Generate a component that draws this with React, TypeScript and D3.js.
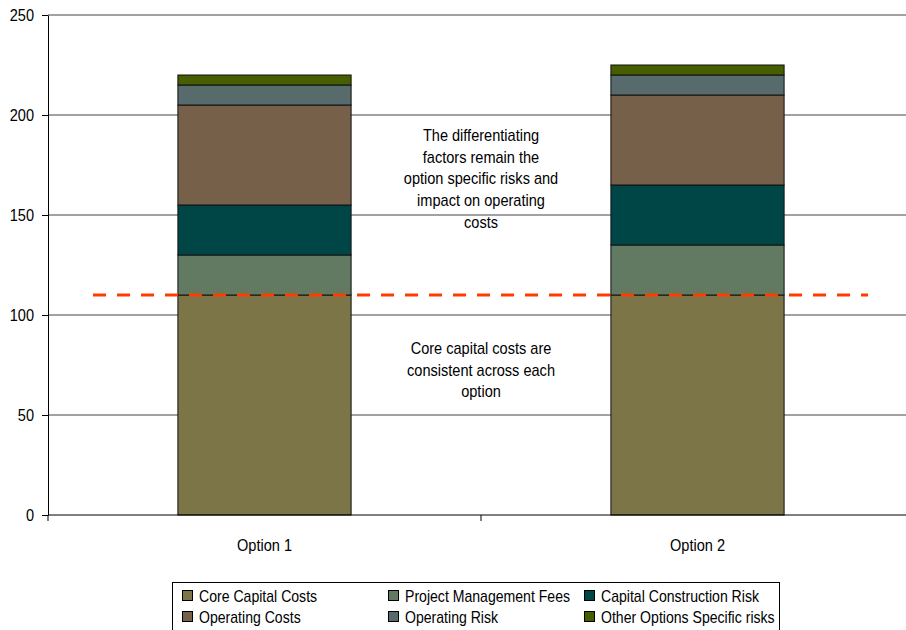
import React, { useEffect, useRef } from 'react';
import * as d3 from 'd3';

// chart data
const categories = ['Option 1', 'Option 2'];
const seriesNames = [
  'Core Capital Costs',
  'Project Management Fees',
  'Capital Construction Risk',
  'Operating Costs',
  'Operating Risk',
  'Other Options Specific risks',
];
const coreCapital = [110, 110];
const projectMgmt = [20, 25];
const constructionRisk = [25, 30];
const operatingCosts = [50, 45];
const operatingRisk = [10, 10];
const otherRisks = [5, 5];
const yTicks = [0, 50, 100, 150, 200, 250];
const coreLine = 110;

const colors = ['#7b7547', '#617a61', '#004646', '#77604a', '#586b6c', '#465d00'];

const App = () => {
  const ref = useRef<SVGSVGElement>(null);

  useEffect(() => {
    const svg = d3.select(ref.current);
    svg.selectAll('*').remove();

    const left = 48, right = 914, top = 15, bottom = 515;
    const font = 'Liberation Sans, Arial, sans-serif';

    // condensed-looking text, like the original's narrow Arial
    const label = (g: any, tx: number, ty: number, txt: string, anchor = 'middle', sx = 0.91) =>
      g.append('text')
        .attr('transform', `translate(${tx},${ty}) scale(${sx},1)`)
        .attr('text-anchor', anchor)
        .style('font-family', font)
        .style('font-size', '16px')
        .attr('fill', '#000')
        .text(txt);

    const x = d3.scaleBand().domain(categories).range([left, right]);
    const y = d3.scaleLinear().domain([0, 250]).range([bottom, top]);

    // gridlines
    svg.append('g')
      .selectAll('line')
      .data(yTicks.filter(t => t > 0))
      .enter()
      .append('line')
      .attr('x1', left)
      .attr('x2', right)
      .attr('y1', d => y(d))
      .attr('y2', d => y(d))
      .attr('stroke', '#444')
      .attr('stroke-width', 1);

    // stacked bars
    const rows = categories.map((c, i) => ({
      cat: c,
      s0: coreCapital[i], s1: projectMgmt[i], s2: constructionRisk[i],
      s3: operatingCosts[i], s4: operatingRisk[i], s5: otherRisks[i],
    }));
    const keys = ['s0', 's1', 's2', 's3', 's4', 's5'];
    const stacked = d3.stack<any>().keys(keys)(rows);
    const barW = x.bandwidth() * 0.4;

    stacked.forEach((layer, li) => {
      svg.append('g')
        .selectAll('rect')
        .data(layer)
        .enter()
        .append('rect')
        .attr('x', d => x(d.data.cat)! + (x.bandwidth() - barW) / 2)
        .attr('y', d => y(d[1]))
        .attr('width', barW)
        .attr('height', d => y(d[0]) - y(d[1]))
        .attr('fill', colors[li])
        .attr('stroke', '#111')
        .attr('stroke-width', 1);
    });

    // y axis
    const yAxis = d3.axisLeft(y).tickValues(yTicks).tickSize(6).tickSizeOuter(0).tickFormat(() => '');
    const gy = svg.append('g').attr('transform', `translate(${left},0)`).call(yAxis);
    gy.selectAll('line').attr('stroke', '#000');
    gy.select('.domain').attr('stroke', '#000');
    yTicks.forEach(t => label(svg, 34, y(t) + 6, String(t), 'end'));

    // x axis
    const gx = svg.append('g').attr('transform', `translate(0,${bottom})`);
    gx.append('line').attr('x1', left).attr('x2', right).attr('stroke', '#000');
    gx.selectAll('.tk')
      .data([left, left + x.bandwidth(), right])
      .enter()
      .append('line')
      .attr('x1', d => d).attr('x2', d => d)
      .attr('y1', 0).attr('y2', 6)
      .attr('stroke', '#000');
    categories.forEach(c => label(svg, x(c)! + x.bandwidth() / 2, bottom + 36, c));

    // dashed reference line
    svg.append('line')
      .attr('x1', 93)
      .attr('x2', 868)
      .attr('y1', y(coreLine))
      .attr('y2', y(coreLine))
      .attr('stroke', '#ff3c00')
      .attr('stroke-width', 3)
      .attr('stroke-dasharray', '13,11');

    // annotations
    const note1 = ['The differentiating', 'factors remain the', 'option specific risks and', 'impact on operating', 'costs'];
    const note2 = ['Core capital costs are', 'consistent across each', 'option'];
    const cx = left + x.bandwidth();
    note1.forEach((l, i) => label(svg, cx, 141 + i * 21.7, l));
    note2.forEach((l, i) => label(svg, cx, 354 + i * 21.7, l));

    // legend
    const lg = svg.append('g');
    lg.append('rect')
      .attr('x', 172.5).attr('y', 582.5)
      .attr('width', 607).attr('height', 50)
      .attr('fill', '#fff').attr('stroke', '#000');
    const colX = [183, 389, 585];
    seriesNames.forEach((name, i) => {
      const cxl = colX[i % 3];
      const cy = i < 3 ? 596 : 617;
      lg.append('rect')
        .attr('x', cxl - 0.5).attr('y', cy - 5.5)
        .attr('width', 10).attr('height', 10)
        .attr('fill', colors[i]).attr('stroke', '#000');
      label(lg, cxl + 16, cy + 6, name, 'start', 0.88);
    });
  }, []);

  return (
    <svg ref={ref} width={906} height={630} style={{ position: 'absolute', left: 0, top: 0, background: '#fff' }} />
  );
};

export default App;
